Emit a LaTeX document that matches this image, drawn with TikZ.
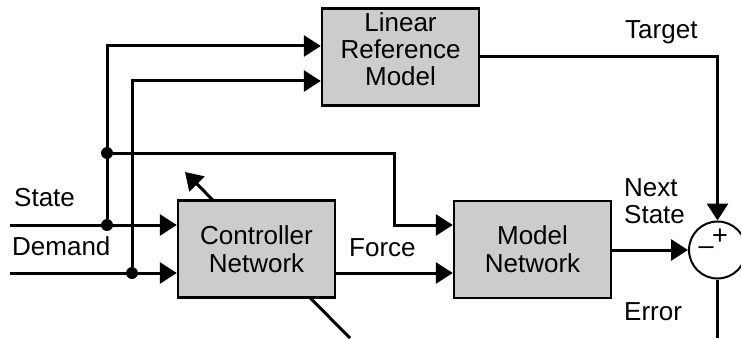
\documentclass[tikz,border=0pt]{standalone}
\usepackage{fontspec}
\setmainfont{Liberation Sans}
\usetikzlibrary{arrows.meta}

\tikzset{
  block/.style={draw, line width=2.4pt, fill=black!20, minimum width=157pt, minimum height=97pt,
    align=center, font=\fontsize{26}{28}\selectfont, inner sep=0pt},
  wire/.style={line width=3pt},
  sig/.style={wire, -{Triangle[length=17pt,width=21pt]}},
  lbl/.style={font=\fontsize{26}{27}\selectfont, inner sep=0pt, anchor=west, align=left},
  dot/.style={circle, fill=black, inner sep=0pt, minimum size=12pt},
  sign/.style={font=\fontsize{27}{27}\selectfont, inner sep=0pt}
}

\begin{document}
\begin{tikzpicture}[x=1pt,y=1pt]
  \useasboundingbox (0,0) rectangle (741,338);
  % learning path through the controller
  \draw[sig] (350,0) -- (185,166);
  \node[block] (lrm) at (400.5,281) {};
  \node[align=center, font=\fontsize{26}{27}\selectfont, inner sep=0pt] (lrmtext) at (400.5,289) {Linear\\Reference\\Model};
  \node[block] (ctrl) at (256.5,89) {Controller\\Network};
  \node[block] (model) at (532.5,88.5) {Model\\Network};
  \node[draw, circle, line width=2pt, fill=white, minimum size=57pt, inner sep=0pt] (sum) at (717.5,88) {};
  \node[sign] (plus) at (720,101) {+};
  \node[sign] (minus) at (706,87) {--};

  \coordinate (sin) at (10,113);
  \coordinate (din) at (10,65);
  \node[dot] (sdot) at (107,113) {};
  \node[dot] (ddot) at (132,65) {};
  \node[dot] (fdot) at (107,185) {};
  \coordinate (eout) at (717.5,0);

  % inputs
  \draw[sig] (sin) -- (ctrl.west |- sin);
  \draw[sig] (din) -- (ctrl.west |- din);
  \draw[sig] (sdot) |- (lrm.west |- 0,292);
  \draw[sig] (ddot) |- (lrm.west |- 0,257);
  \draw[sig] (fdot) -| (394,113) -- (model.west |- sin);
  \draw[sig] (ctrl.east |- din) -- (model.west |- din);
  \draw[sig] (model.east |- sum) -- (sum.west);
  \draw[sig] (lrm.east |- 0,281) -| (sum.north);
  \draw[wire] (sum.south) -- (eout);

  % labels
  \node[lbl] (state) at (14,140) {State};
  \node[lbl] (demand) at (12,92) {Demand};
  \node[lbl] (force) at (349,90) {Force};
  \node[lbl] (next) at (624,136.5) {Next\\State};
  \node[lbl] (target) at (625,306) {Target};
  \node[lbl] (error) at (624,26.5) {Error};
\end{tikzpicture}
\end{document}
